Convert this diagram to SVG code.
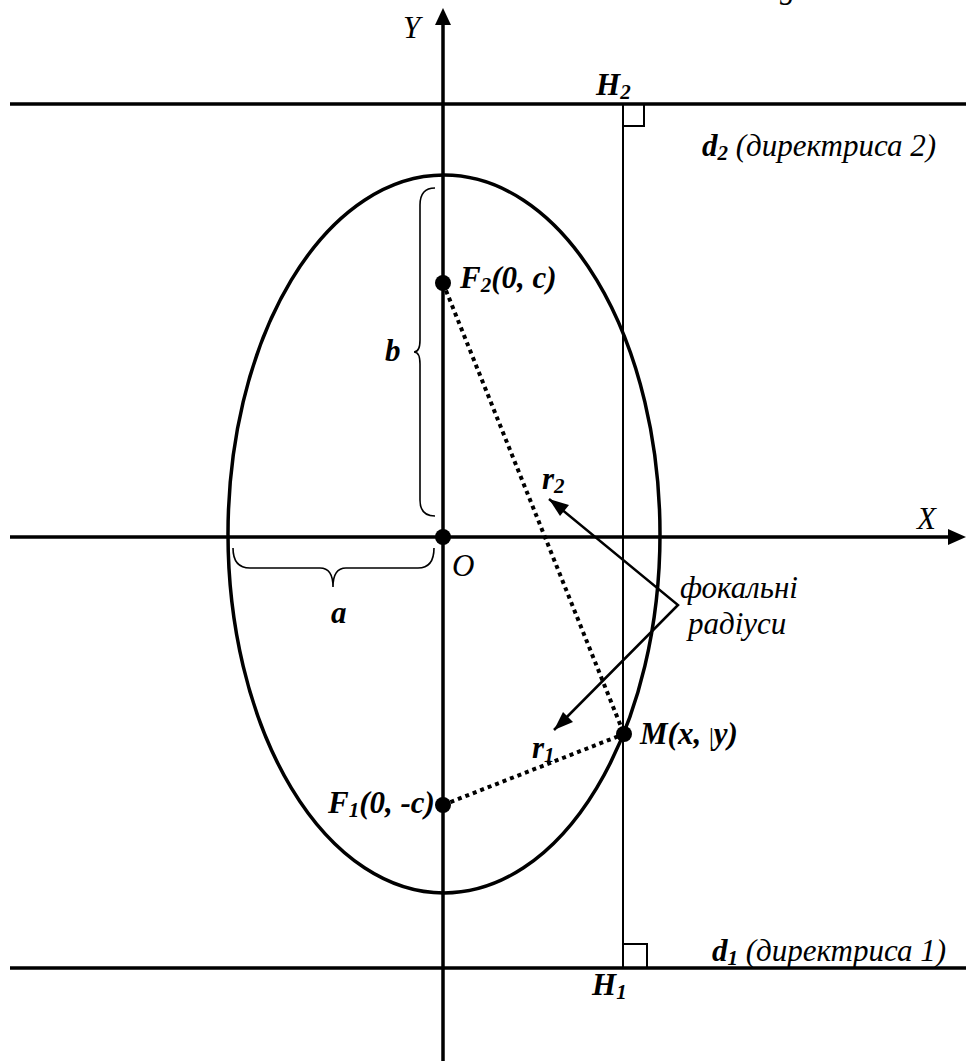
<svg xmlns="http://www.w3.org/2000/svg" width="966" height="1061" viewBox="0 0 966 1061">
<style>
.ax{stroke:#000;stroke-width:3.5;fill:none}
.thin{stroke:#000;stroke-width:2;fill:none}
.br{stroke:#000;stroke-width:1.6;fill:none}
.dot{stroke:#000;stroke-width:4;stroke-dasharray:4 4;fill:none}
.arr{stroke:#000;stroke-width:2.5;fill:none}
text{font-family:"Liberation Serif","Times New Roman",serif;font-size:31px;fill:#000}
.bi{font-weight:bold;font-style:italic}
.it{font-style:italic}
.sub{font-size:21px}
</style>
<rect width="966" height="1061" fill="#fff"/>
<text class="it" x="780" y="-2">g</text>
<g id="axes">
<line class="ax" x1="10" y1="537" x2="950" y2="537"/>
<path d="M966,537 L948,529 L948,545 Z" fill="#000"/>
<line class="ax" x1="443" y1="1061" x2="443" y2="22"/>
<path d="M443,8 L435,25 L451,25 Z" fill="#000"/>
<text class="it" x="403" y="38">Y</text>
<text class="it" x="917" y="529">X</text>
</g>
<g id="directrix2">
<line class="ax" x1="10" y1="104" x2="966" y2="104"/>
<text x="702" y="156"><tspan class="bi">d</tspan><tspan class="bi sub" dy="4">2</tspan><tspan class="it" dy="-4"> (директриса 2)</tspan></text>
</g>
<g id="directrix1">
<line class="ax" x1="10" y1="968" x2="966" y2="968"/>
<text x="712" y="961"><tspan class="bi">d</tspan><tspan class="bi sub" dy="4">1</tspan><tspan class="it" dy="-4"> (директриса 1)</tspan></text>
</g>
<g id="ellipse">
<ellipse class="ax" cx="444" cy="534" rx="216" ry="359"/>
</g>
<g id="perpendicular">
<line class="thin" x1="623" y1="104" x2="623" y2="968"/>
<polyline class="thin" points="623,126 644,126 644,104"/>
<polyline class="thin" points="623,944 647,944 647,968"/>
<text class="bi" x="596" y="95">H<tspan class="sub" dy="4">2</tspan></text>
<text class="bi" x="592" y="995">H<tspan class="sub" dy="4">1</tspan></text>
</g>
<g id="brace-b">
<path class="br" d="M435,188 Q420,188 420,205 L420,340 Q420,352 414,352 Q420,352 420,364 L420,500 Q420,516 435,516"/>
<text class="bi" x="385" y="361">b</text>
</g>
<g id="brace-a">
<path class="br" d="M233,548 Q233,568 250,568 L320,568 Q333,568 333,587 Q333,568 346,568 L418,568 Q434,568 434,548"/>
<text class="bi" x="331" y="623">a</text>
</g>
<g id="connectors">
<line class="dot" x1="443" y1="283" x2="624" y2="734"/>
<line class="dot" x1="443" y1="805" x2="624" y2="734"/>
<polyline class="arr" points="549,499 678,605 554,730"/>
<path d="M549,499 L569,505 L560,516 Z" fill="#000"/>
<path d="M554,730 L563,712 L573,722 Z" fill="#000"/>
</g>
<g id="O">
<circle cx="443" cy="537" r="8" fill="#000"/>
<text class="it" x="452" y="576">O</text>
</g>
<g id="F2">
<circle cx="443" cy="283" r="8" fill="#000"/>
<text class="bi" x="460" y="288">F<tspan class="sub" dy="4">2</tspan><tspan dy="-4">(0, c)</tspan></text>
</g>
<g id="F1">
<circle cx="443" cy="805" r="8" fill="#000"/>
<text class="bi" x="328" y="813">F<tspan class="sub" dy="4">1</tspan><tspan dy="-4">(0, -c)</tspan></text>
</g>
<g id="M">
<circle cx="624" cy="734" r="8" fill="#000"/>
<text class="bi" x="640" y="744">M(x, <tspan font-weight="normal" font-style="normal" font-size="24">|</tspan>y)</text>
</g>
<g id="labels">
<text class="bi" x="542" y="489">r<tspan class="sub" dy="4">2</tspan></text>
<text class="bi" x="532" y="758">r<tspan class="sub" dy="4">1</tspan></text>
<text class="it" x="680" y="598">фокальні</text>
<text class="it" x="688" y="634">радіуси</text>
</g>
</svg>
